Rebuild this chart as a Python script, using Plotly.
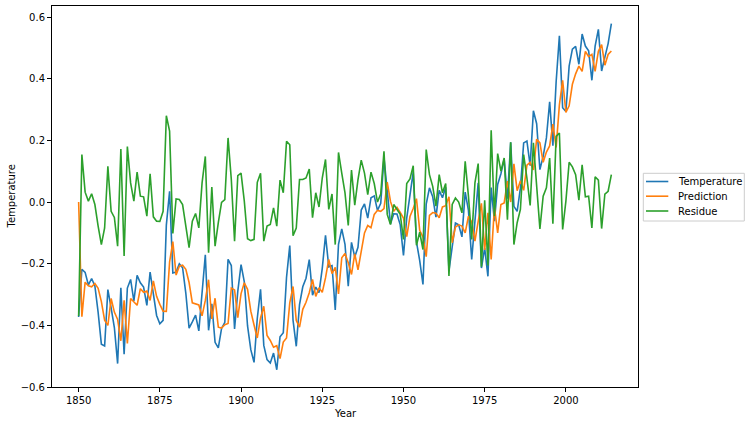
import plotly.graph_objects as go

years = list(range(1850, 2015))

temperature = [
    -0.373, -0.218, -0.228, -0.269, -0.248, -0.272, -0.358, -0.461, -0.467, -0.284,
    -0.343, -0.407, -0.524, -0.278, -0.494, -0.279, -0.251, -0.321, -0.238, -0.262,
    -0.276, -0.335, -0.227, -0.304, -0.368, -0.395, -0.384, -0.075, 0.035, -0.230,
    -0.227, -0.200, -0.213, -0.296, -0.409, -0.389, -0.367, -0.418, -0.307, -0.171,
    -0.416, -0.330, -0.455, -0.473, -0.410, -0.390, -0.186, -0.206, -0.412, -0.289,
    -0.203, -0.259, -0.402, -0.479, -0.520, -0.377, -0.283, -0.465, -0.511, -0.522,
    -0.490, -0.544, -0.437, -0.424, -0.244, -0.141, -0.383, -0.468, -0.333, -0.275,
    -0.247, -0.187, -0.302, -0.276, -0.294, -0.215, -0.108, -0.210, -0.206, -0.350,
    -0.137, -0.087, -0.137, -0.273, -0.131, -0.178, -0.147, -0.026, -0.006, -0.052,
    0.014, 0.020, -0.027, -0.004, 0.144, 0.025, -0.071, -0.038, -0.039, -0.074,
    -0.173, -0.052, 0.028, 0.097, -0.129, -0.190, -0.267, -0.007, 0.046, 0.017,
    -0.049, 0.038, 0.014, 0.048, -0.223, -0.140, -0.068, -0.074, -0.113, 0.032,
    -0.027, -0.186, -0.065, 0.062, -0.214, -0.149, -0.241, 0.047, -0.062, 0.057,
    0.092, 0.140, 0.011, 0.194, -0.014, -0.030, 0.045, 0.192, 0.198, 0.118,
    0.296, 0.254, 0.105, 0.148, 0.208, 0.325, 0.183, 0.390, 0.539, 0.306,
    0.294, 0.441, 0.496, 0.505, 0.447, 0.545, 0.506, 0.491, 0.395, 0.506,
    0.560, 0.425, 0.470, 0.514, 0.579,
]

prediction = [
    0.0, -0.372, -0.26, -0.272, -0.275, -0.264, -0.28, -0.323, -0.383, -0.4,
    -0.313, -0.357, -0.381, -0.45, -0.319, -0.459, -0.313, -0.324, -0.335, -0.281,
    -0.293, -0.289, -0.319, -0.256, -0.306, -0.332, -0.354, -0.355, -0.195, -0.128,
    -0.237, -0.208, -0.205, -0.218, -0.261, -0.327, -0.33, -0.334, -0.369, -0.319,
    -0.252, -0.379, -0.312, -0.406, -0.409, -0.398, -0.394, -0.279, -0.285, -0.375,
    -0.297, -0.262, -0.283, -0.354, -0.399, -0.441, -0.376, -0.338, -0.433, -0.449,
    -0.471, -0.466, -0.508, -0.454, -0.441, -0.327, -0.274, -0.384, -0.406, -0.348,
    -0.325, -0.294, -0.251, -0.306, -0.278, -0.293, -0.246, -0.186, -0.232, -0.212,
    -0.298, -0.181, -0.167, -0.197, -0.235, -0.168, -0.22, -0.162, -0.1, -0.076,
    -0.083, -0.04, -0.027, -0.03, -0.021, 0.065, 0.002, -0.03, -0.017, -0.034,
    -0.052, -0.112, -0.047, -0.021, 0.011, -0.092, -0.113, -0.177, -0.043, -0.034,
    -0.036, -0.051, -0.016, -0.012, 0.017, -0.132, -0.081, -0.074, -0.078, -0.1,
    -0.046, -0.065, -0.127, -0.063, -0.004, -0.155, -0.035, -0.186, -0.016, -0.1,
    -0.008, -0.003, 0.068, 0.0, 0.124, 0.037, 0.069, 0.038, 0.12, 0.129,
    0.104, 0.204, 0.192, 0.129, 0.162, 0.182, 0.253, 0.177, 0.315, 0.395,
    0.291, 0.312, 0.382, 0.416, 0.441, 0.424, 0.489, 0.472, 0.479, 0.424,
    0.489, 0.511, 0.444, 0.479, 0.49,
]

residue = [
    -0.37, 0.154, 0.032, 0.003, 0.027, -0.008, -0.078, -0.138, -0.084, 0.116,
    -0.03, -0.05, -0.143, 0.172, -0.175, 0.18, 0.062, 0.003, 0.097, 0.019,
    0.017, -0.046, 0.092, -0.048, -0.062, -0.063, -0.03, 0.28, 0.23, -0.102,
    0.010, 0.008, -0.008, -0.078, -0.148, -0.062, -0.037, -0.084, 0.062, 0.148,
    -0.164, 0.049, -0.143, -0.067, -0.001, 0.008, 0.208, 0.073, -0.127, 0.086,
    0.094, 0.003, -0.119, -0.125, -0.121, 0.064, 0.093, -0.127, -0.078, -0.073,
    -0.019, -0.078, 0.071, 0.03, 0.197, 0.186, -0.109, -0.084, 0.073, 0.073,
    0.078, 0.107, -0.051, 0.03, -0.016, 0.078, 0.138, -0.024, 0.026, -0.138,
    0.161, 0.094, 0.03, -0.076, 0.104, -0.01, 0.073, 0.136, 0.094, 0.024,
    0.097, 0.06, 0.0, 0.026, 0.165, -0.04, -0.073, -0.008, -0.022, -0.04,
    -0.121, 0.06, 0.075, 0.118, -0.14, -0.098, -0.154, 0.17, 0.089, 0.051,
    -0.013, 0.089, 0.03, 0.06, -0.24, -0.008, 0.013, 0.0, -0.035, 0.132,
    0.019, -0.121, 0.062, 0.125, -0.21, 0.006, -0.206, 0.233, -0.046, 0.157,
    0.1, 0.143, -0.057, 0.194, -0.138, -0.067, -0.024, 0.154, 0.078, -0.011,
    0.192, 0.05, -0.087, 0.019, 0.046, 0.143, -0.07, 0.213, 0.224, -0.089,
    0.003, 0.129, 0.114, 0.089, 0.006, 0.121, 0.017, 0.019, -0.084, 0.082,
    0.071, -0.086, 0.026, 0.035, 0.089,
]

x_ticks = [1850, 1875, 1900, 1925, 1950, 1975, 2000]
y_ticks = [-0.6, -0.4, -0.2, 0.0, 0.2, 0.4, 0.6]

series_names = ["Temperature", "Prediction", "Residue"]
series_colors = ["#1f77b4", "#ff7f0e", "#2ca02c"]
series_values = [temperature, prediction, residue]

# plot area geometry in pixels
W, H = 751, 425
L, R, T, B = 52, 113, 6, 38
pw, ph = W - L - R, H - T - B


def px_x(px):
    return (px - L) / pw


def px_y(py):
    return (H - B - py) / ph


fig = go.Figure()
for name, vals, color in zip(series_names, series_values, series_colors):
    fig.add_trace(go.Scatter(x=years, y=vals, mode="lines", name=name,
                             showlegend=False,
                             line=dict(color=color, width=1.6)))

axis_common = dict(showline=True, linecolor="black", linewidth=1, mirror=True,
                   ticks="outside", ticklen=4, tickcolor="black", showgrid=False,
                   zeroline=False, automargin=False,
                   tickfont=dict(family="DejaVu Sans", size=10, color="black"))

shapes = []
annotations = []

# legend frame (custom, matplotlib-like)
shapes.append(dict(type="rect", xref="paper", yref="paper",
                   x0=px_x(643.3), x1=px_x(744.3), y0=px_y(221), y1=px_y(173.3),
                   line=dict(color="#cccccc", width=1), fillcolor="white"))
entry_y = [181.5, 196.2, 211.0]
for name, color, ey in zip(series_names, series_colors, entry_y):
    shapes.append(dict(type="line", xref="paper", yref="paper",
                       x0=px_x(646), x1=px_x(668.3), y0=px_y(ey), y1=px_y(ey),
                       line=dict(color=color, width=1.6)))
    annotations.append(dict(text=name, xref="paper", yref="paper",
                            x=px_x(676), y=px_y(ey), xanchor="left", yanchor="middle",
                            showarrow=False,
                            font=dict(family="DejaVu Sans", size=10, color="black")))

# axis titles
annotations.append(dict(text="Year", xref="paper", yref="paper",
                        x=0.5, y=px_y(413), xanchor="center", yanchor="middle",
                        showarrow=False,
                        font=dict(family="DejaVu Sans", size=10, color="black")))
annotations.append(dict(text="Temperature", xref="paper", yref="paper",
                        x=px_x(11), y=0.5, xanchor="center", yanchor="middle",
                        textangle=-90, showarrow=False,
                        font=dict(family="DejaVu Sans", size=10, color="black")))

fig.update_layout(
    width=W, height=H,
    margin=dict(l=L, r=R, t=T, b=B, autoexpand=False),
    paper_bgcolor="white", plot_bgcolor="white",
    font=dict(family="DejaVu Sans", size=10, color="black"),
    xaxis=dict(range=[1841.8, 2022.2], tickvals=x_ticks, **axis_common),
    yaxis=dict(range=[-0.6, 0.636], tickvals=y_ticks, tickformat=".1f", **axis_common),
    shapes=shapes,
    annotations=annotations,
    showlegend=False,
)

fig.write_html("out.html",
               config={"displayModeBar": False},
               post_script="document.body.style.margin='0';document.body.style.overflow='hidden';")
